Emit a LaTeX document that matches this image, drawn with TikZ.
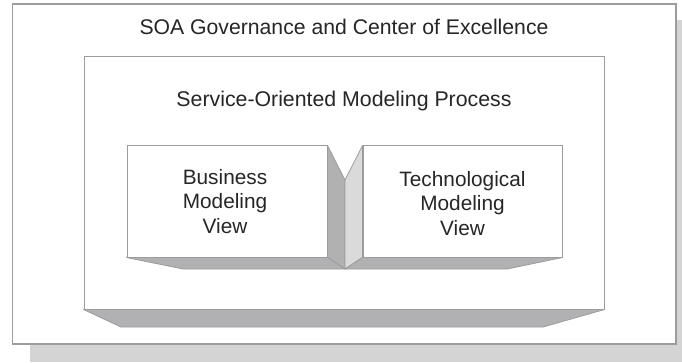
\documentclass[tikz,border=0pt]{standalone}
\usepackage{fontspec}
\setmainfont{Liberation Sans}
\definecolor{edgegray}{HTML}{9C9C9C}
\definecolor{shadowgray}{HTML}{D4D4D4}
\definecolor{darkface}{HTML}{B1B1B3}
\definecolor{lightface}{HTML}{DADADA}
\begin{document}
\begin{tikzpicture}[x=1pt, y=-1pt, line width=1pt,
    frame/.style = {draw=edgegray, fill=white, inner sep=0pt},
    face/.style = {draw=edgegray, line width=0.8pt, line join=round},
    title/.style = {anchor=base, font=\fontsize{21.2}{25}\selectfont, text=black!85},
    view/.style = {align=center, font=\fontsize{20.8}{24.5}\selectfont, text=black!85}]
    \useasboundingbox (0,0) rectangle (682,363);
    \fill[shadowgray] (30,20) rectangle (682,362);

    \node[frame, line width=1.4pt, minimum width=663.5pt, minimum height=340pt] (1) at (344.25,174) {};
    \node[frame, minimum width=520pt, minimum height=252pt] (2) at (344,183) {};
    \filldraw[face, fill=darkface] (2.south west) -- (2.south east) -- (543,327) -- (121,327) -- cycle;

    \node[frame, minimum width=200pt, minimum height=111pt] (3) at (227,201.5) {};
    \node[frame, minimum width=199pt, minimum height=111pt] (4) at (462.5,201.5) {};
    \coordinate (top) at (345,180);
    \coordinate (bot) at (345,269);
    \filldraw[face, fill=darkface] (3.north east) -- (top) -- (bot) -- (3.south east) -- cycle;
    \filldraw[face, fill=darkface] (3.south west) -- (3.south east) -- (bot) -- (183,269) -- cycle;
    \filldraw[face, fill=lightface] (4.north west) -- (top) -- (bot) -- (4.south west) -- cycle;
    \filldraw[face, fill=darkface] (4.south west) -- (4.south east) -- (507,269) -- (bot) -- cycle;

    \node[title] (5) at (344,35) {SOA Governance and Center of Excellence};
    \node[title, font=\fontsize{21.3}{25}\selectfont] (6) at (344,107) {Service-Oriented Modeling Process};
    \node[view] (7) at ([xshift=-2pt]3.center) {Business\\Modeling\\View};
    \node[view] (8) at ([yshift=-2pt]4.center) {Technological\\Modeling\\View};
\end{tikzpicture}
\end{document}
